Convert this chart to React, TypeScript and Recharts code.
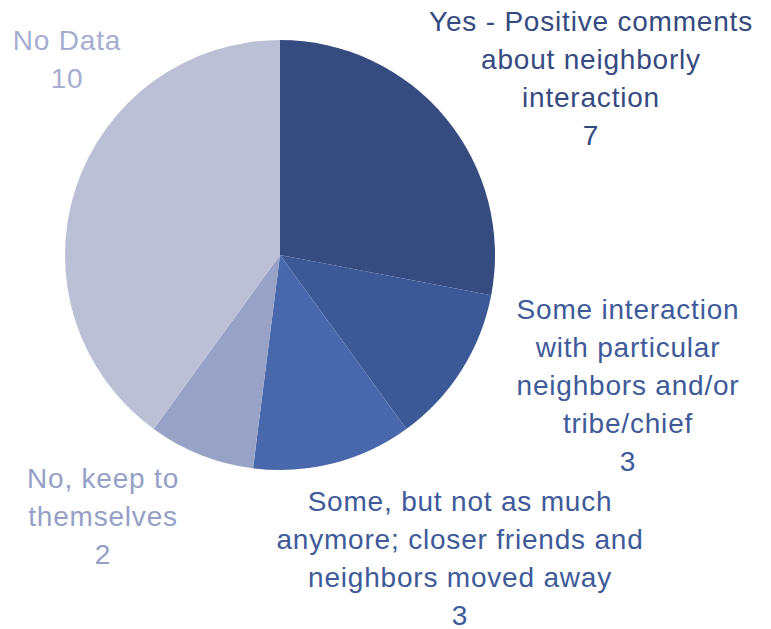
import { Cell, Pie, PieChart } from "recharts";

const categories = [
  ["Yes - Positive comments", "about neighborly", "interaction"],
  ["Some interaction", "with particular", "neighbors and/or", "tribe/chief"],
  ["Some, but not as much", "anymore; closer friends and", "neighbors moved away"],
  ["No, keep to", "themselves"],
  ["No Data"],
];
const counts = [7, 3, 3, 2, 10];

const sliceColors = ["#364b80", "#3d5897", "#4967ab", "#97a2c6", "#bcc0d7"];
const textColors = ["#354a80", "#3e5a99", "#3e5a99", "#95a0c6", "#a5add0"];
// label block centre, relative to pie centre
const labelOffsets = [
  [311, -177],
  [348, 130],
  [180, 303],
  [-177, 261],
  [-213, -196],
];

const data = counts.map((v, i) => ({ name: categories[i].join(" "), value: v }));

const LINE = 38;

function renderLabel(props: any) {
  const { cx, cy, index, value } = props;
  const lines = [...categories[index], String(value)];
  const [dx, dy] = labelOffsets[index];
  const x = cx + dx;
  const top = cy + dy - ((lines.length - 1) * LINE) / 2;
  return (
    <text
      x={x}
      y={top}
      textAnchor="middle"
      dominantBaseline="central"
      fill={textColors[index]}
      fontSize={28}
      letterSpacing={0.8}
      fontFamily="'Liberation Sans', Arial, sans-serif"
    >
      {lines.map((l, i) => (
        <tspan key={i} x={x} y={top + i * LINE}>
          {l}
        </tspan>
      ))}
    </text>
  );
}

export default function App() {
  return (
    <div style={{ position: "absolute", left: 0, top: 0, width: 771, height: 629, background: "#fff" }}>
      <PieChart width={771} height={629} margin={{ top: 0, right: 0, bottom: 0, left: 0 }}>
        <Pie
          data={data}
          dataKey="value"
          cx={280}
          cy={255}
          outerRadius={215}
          startAngle={90}
          endAngle={-270}
          stroke="none"
          label={renderLabel}
          labelLine={false}
          isAnimationActive={false}
        >
          {data.map((_, i) => (
            <Cell key={i} fill={sliceColors[i]} />
          ))}
        </Pie>
      </PieChart>
    </div>
  );
}
